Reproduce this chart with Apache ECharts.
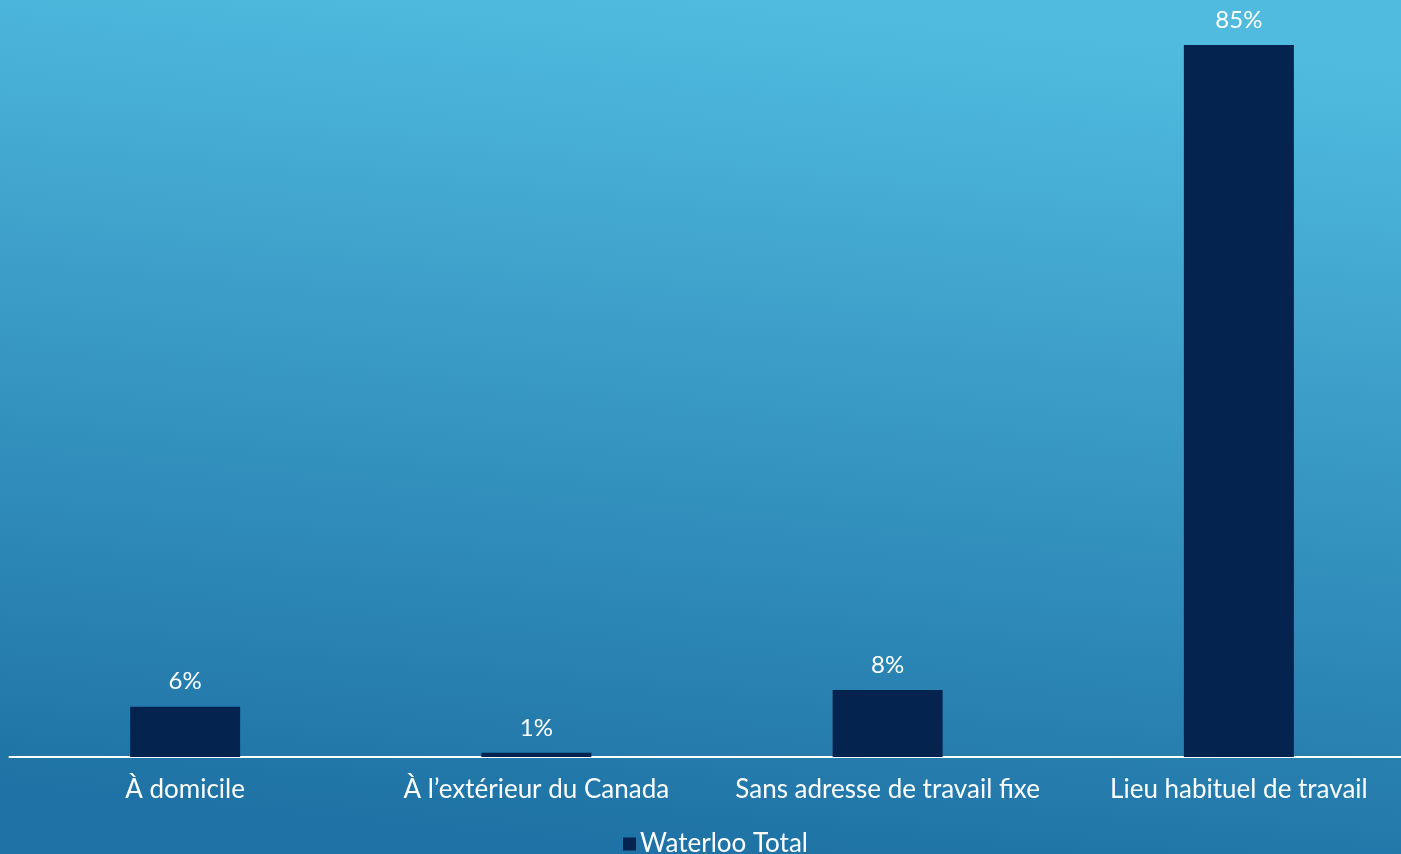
<!DOCTYPE html>
<html><head><meta charset="utf-8">
<script src="https://cdn.jsdelivr.net/npm/echarts@6/dist/echarts.min.js"></script>
<style>html,body{margin:0;padding:0;}#c{width:1401px;height:854px;}</style>
</head><body><div id="c"></div>
<script>
const categories = ['À domicile', 'À l’extérieur du Canada', 'Sans adresse de travail fixe', 'Lieu habituel de travail'];
const values = [6, 0.5, 8, 85];
const seriesName = 'Waterloo Total';

const chart = echarts.init(document.getElementById('c'));
const font = 'Lato';
chart.setOption({
  backgroundColor: {
    type: 'linear', x: 0.53, y: 0, x2: 0.47, y2: 1,
    colorStops: [{offset: 0, color: '#50bbdf'}, {offset: 1, color: '#1e72a5'}]
  },
  animation: false,
  grid: {left: 9.5, width: 1405, top: 3, bottom: 97, containLabel: false, outerBoundsMode: 'none'},
  legend: {
    top: 826, left: 618, itemWidth: 13, itemHeight: 13, itemGap: 6,
    icon: 'rect',
    textStyle: {color: '#ffffff', fontSize: 26, fontFamily: font, padding: [0,0,0,-1]},
    data: [seriesName]
  },
  xAxis: {
    type: 'category', data: categories,
    axisLine: {lineStyle: {color: '#ffffff', width: 2}},
    axisTick: {show: false},
    axisLabel: {color: '#ffffff', fontSize: 26, fontFamily: font, margin: 20, interval: 0}
  },
  yAxis: {type: 'value', min: 0, max: 90, show: false, splitLine: {show: false}},
  series: [{
    name: seriesName, type: 'bar', data: values, barWidth: 110,
    itemStyle: {color: '#04234f'},
    label: {show: true, position: 'top', distance: 13, color: '#ffffff', fontSize: 24, fontFamily: font,
      formatter: p => Math.round(p.value) + '%'}
  }]
});
</script></body></html>
